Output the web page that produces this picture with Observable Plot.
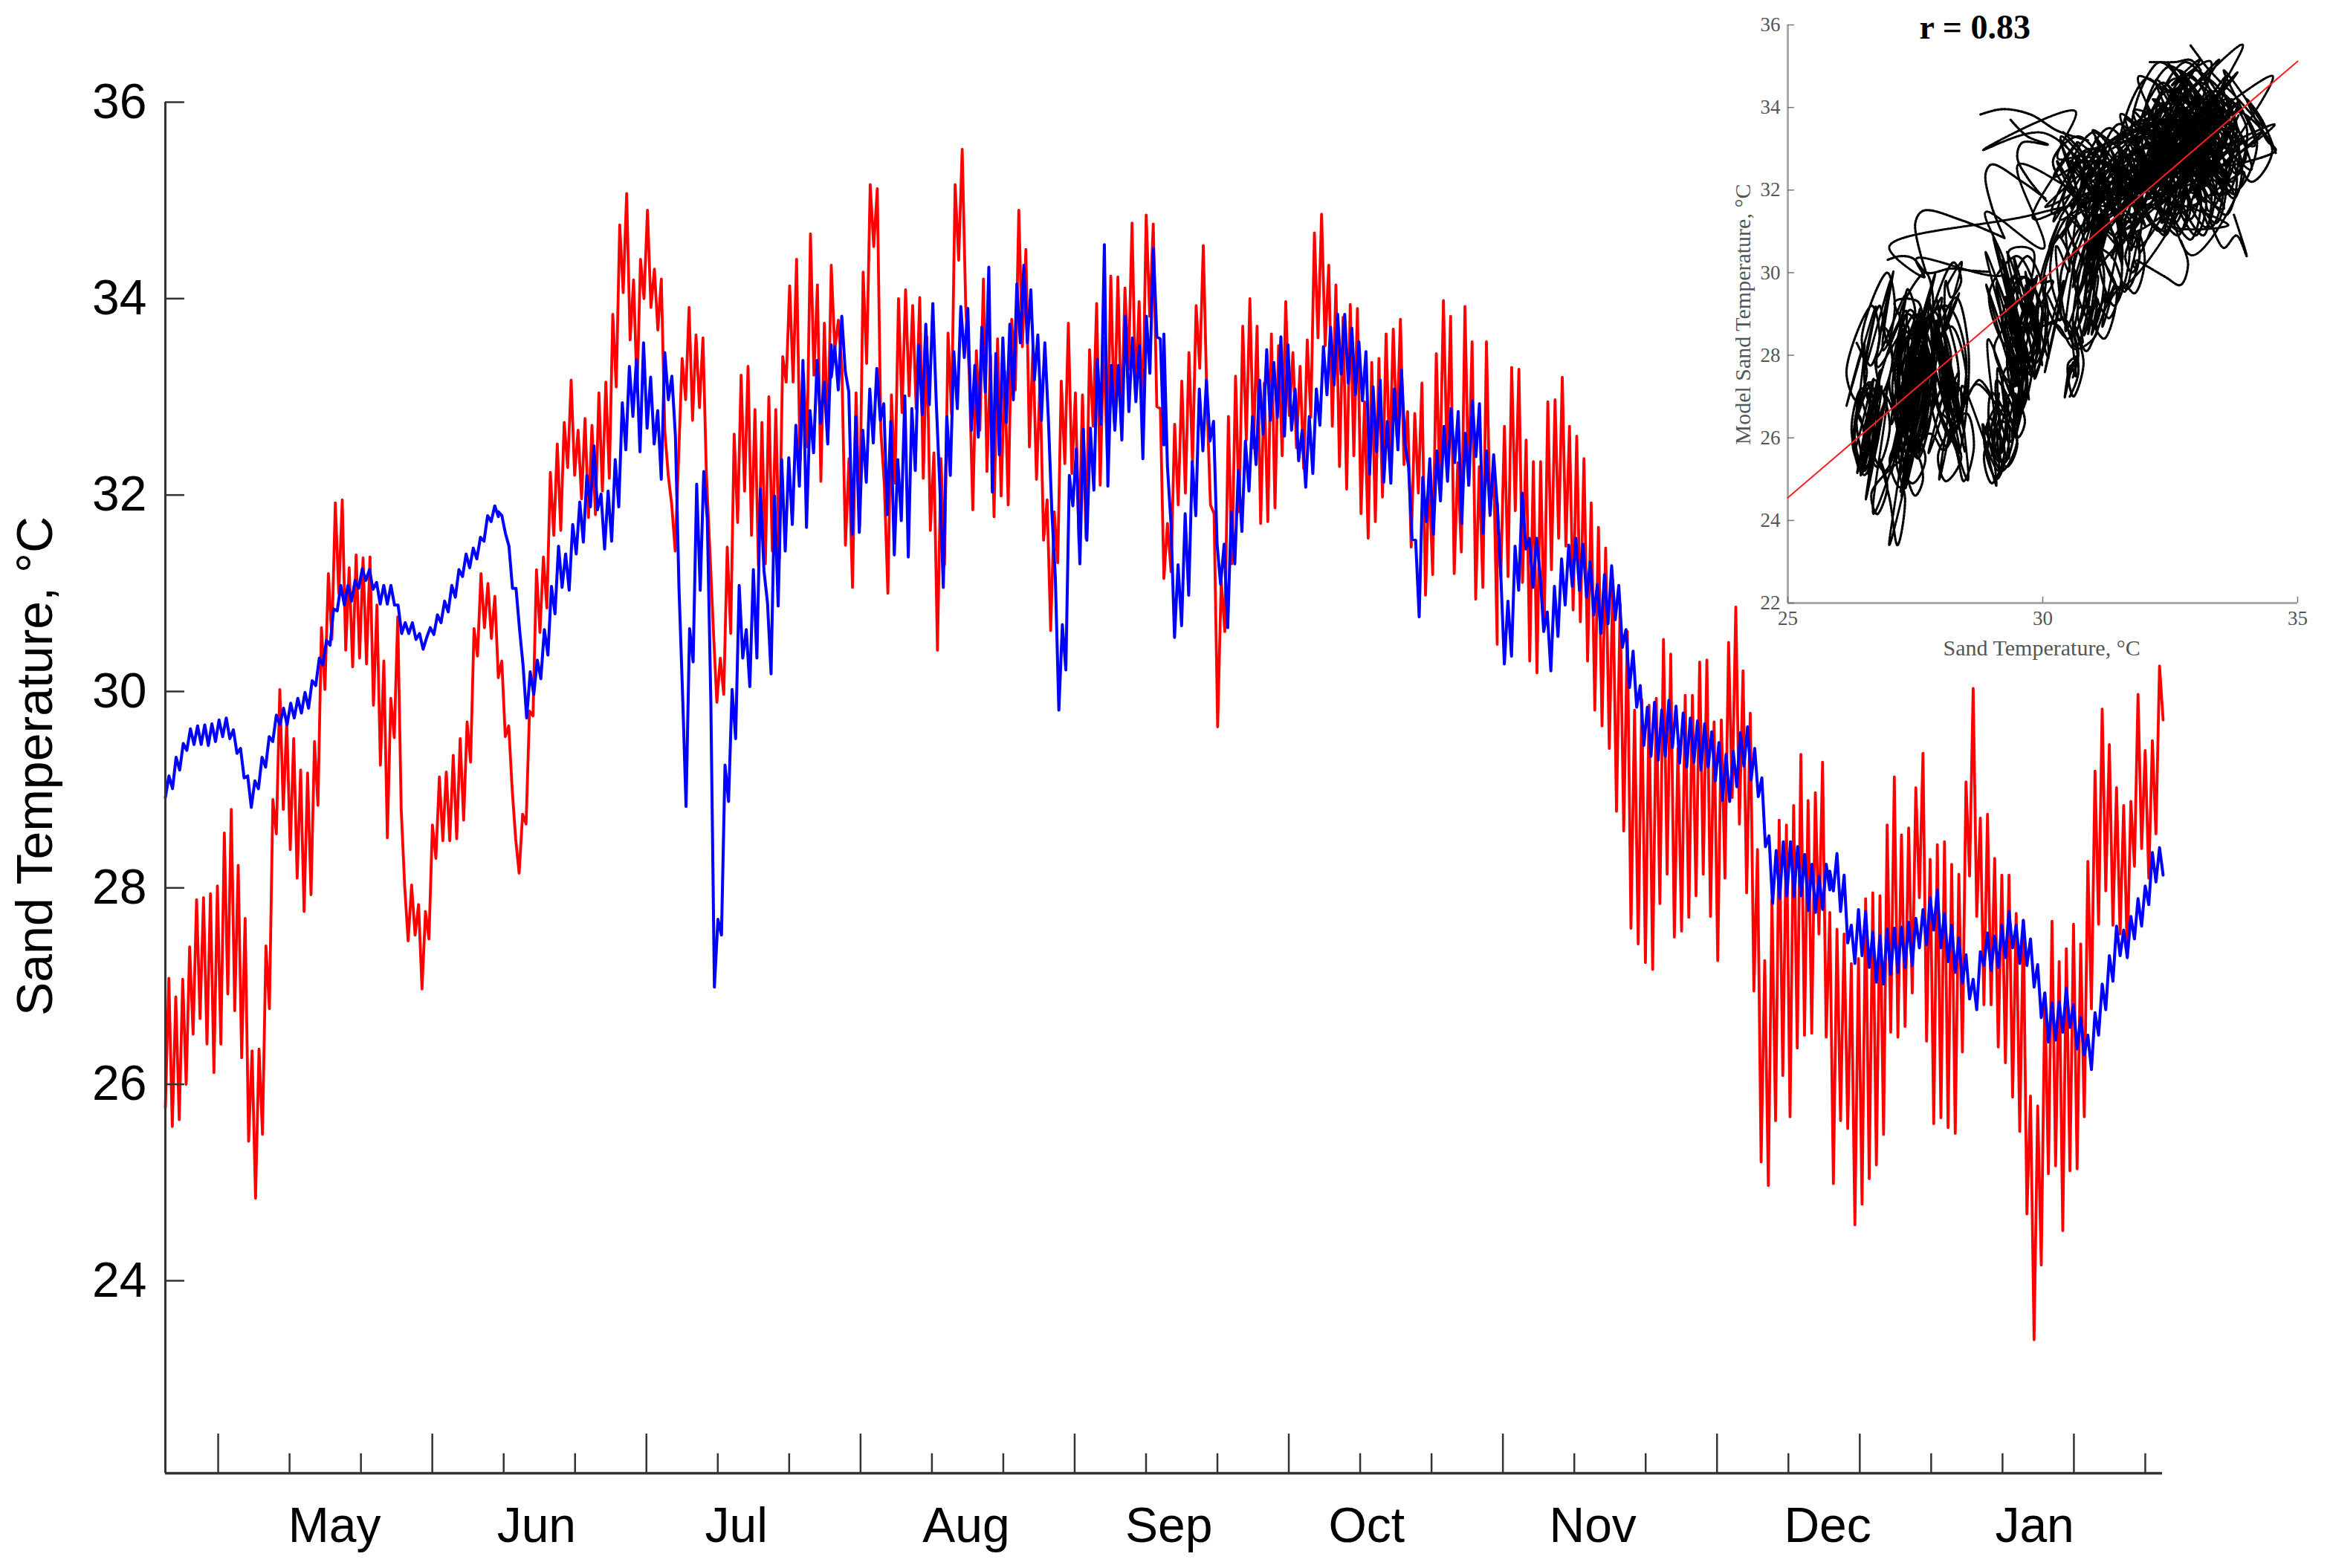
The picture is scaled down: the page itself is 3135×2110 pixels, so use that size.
<!DOCTYPE html>
<html><head><meta charset="utf-8">
<script src="https://cdn.jsdelivr.net/npm/d3@7"></script>
<script src="https://cdn.jsdelivr.net/npm/@observablehq/plot@0.6"></script>
<style>html,body{margin:0;padding:0;background:#fff;overflow:hidden}#c{position:relative;width:3135px;height:2110px}#c svg{position:absolute;left:0;top:0}</style>
</head><body><div id="c"></div>
<script>
// Observed sand temperature: alternating daily peaks and troughs, read in six stretches of the season
const redA=[25.76,27.08,25.57,26.89,25.64,27.07,26.0,27.4,26.51,27.88,26.67,27.9,26.41,27.94,26.12,28.02,26.41,28.56,26.92,28.8,26.75,28.23,26.27,27.69,25.42,26.34,24.84,26.36,25.49,27.41,26.77,28.9,28.55,30.02,28.8,29.69,28.39,29.52,28.1,29.2,27.76,29.17,27.93,29.49,28.84,30.65,30.02,31.2,30.53,31.92,31.0,31.95,30.42,31.26,30.25,31.39,30.34,31.36,30.28,31.37,29.86,30.88,29.25,30.31,28.51,29.93,29.53,30.76,28.8,28.02,27.46,28.03,27.52,27.83,26.97,27.76,27.48,28.64,28.3,29.13,28.48,29.18,28.48,29.35,28.5,29.52,28.69,29.69,29.28,30.64,30.36,31.2,30.65,31.1,30.54,30.97,30.14];
const redB=[30.15,30.31,29.54,29.65,29.0,28.5,28.15,28.75,28.65,29.8,29.75,31.24,30.6,31.37,30.85,32.23,31.59,32.52,31.64,32.74,32.28,33.17,32.2,32.66,31.96,32.78,31.77,32.71,31.8,33.04,32.04,33.15,32.17,33.84,33.1,34.75,34.06,35.07,33.58,34.19,33.05,34.4,34.0,34.9,33.91,34.3,33.68,34.2,32.65,32.2,31.9,31.43,32.4,33.39,32.97,33.91,32.76,33.63,32.89,33.6,32.2,31.43,30.63,29.89,30.34,29.97,31.47,30.59,32.62,31.72,33.22,32.04,33.31,31.59,32.87,31.28,32.74,31.3,33.0,31.43,32.87,31.35,33.41,33.15,34.13,33.15,34.4,32.33,33.24,32.49,34.66,33.22,34.14,32.14,33.75,32.54,34.34];
const redC=[34.33,33.48,33.78,33.28,31.49,32.37,31.06,33.04,31.68,34.27,33.34,35.16,34.53,35.12,32.66,32.1,31.0,33.02,32.12,34.0,32.84,34.09,33.01,33.93,32.88,34.01,32.17,33.61,31.64,32.43,30.42,32.37,31.29,33.65,32.82,35.16,34.39,35.52,33.92,33.24,31.85,33.47,32.66,34.2,32.24,33.42,31.78,33.59,31.99,33.26,31.9,33.79,33.07,34.9,33.51,34.5,32.49,33.51,32.16,33.17,31.54,31.95,30.62,31.83,31.31,33.16,32.32,33.75,32.22,33.04,31.51,33.02,31.56,33.48,32.7,33.95,32.1,33.59,32.39,34.23,32.74,34.22,32.7,34.11,33.28,34.77,33.01,33.97,32.75,34.85,33.82,34.76,32.9,32.88,31.16];
const redD=[31.15,31.71,31.22,32.72,31.9,33.16,32.02,33.45,32.33,33.93,33.29,34.54,32.98,31.9,31.81,29.64,31.13,30.61,32.8,31.3,33.21,31.83,33.72,32.56,34.0,32.48,33.72,31.71,33.14,31.73,33.64,31.87,33.52,32.4,33.97,32.81,33.45,32.48,33.31,32.27,33.58,32.79,34.67,33.6,34.86,33.52,34.34,32.7,34.14,32.29,33.81,32.06,33.94,32.4,33.9,31.81,32.95,31.56,33.35,31.73,33.39,31.98,33.64,32.33,33.69,32.6,33.79,32.31,32.85,31.47,32.83,32.02,33.14,30.98,32.23,31.19,33.44,32.13,33.98,32.37,33.82,31.2,32.33,31.42,33.92,32.1,33.56,30.94,32.29,31.06,33.56,31.79,32.33,30.48];
const redE=[31.92,31.17,32.7,31.17,33.3,31.84,33.28,31.11,32.56,30.31,32.34,30.19,32.34,30.64,32.95,31.24,32.97,31.56,33.2,31.48,32.7,30.83,32.6,30.71,32.37,30.31,31.92,29.81,31.67,29.65,31.46,29.42,31.14,28.78,30.89,28.58,30.61,27.59,29.81,27.43,29.92,27.24,29.86,27.17,29.93,27.84,30.53,28.14,30.38,27.5,29.42,27.56,29.96,27.7,29.96,27.92,30.3,28.14,30.32,27.71,29.69,27.26,29.71,28.1,30.5,28.92,30.86,28.65,30.21,27.95,29.78,26.95,28.39,25.21,27.26,24.97,27.88,25.63,28.69,26.09,28.64,25.67,28.84,26.37,29.36,26.5,28.89,26.52,28.97,27.53,29.28,26.48,27.73];
const redF=[27.75,24.99,27.58,25.63,27.53,25.55,27.23,24.57,27.28,24.78,27.89,25.04,27.95,25.18,27.92,25.49,28.64,26.53,29.13,26.48,28.54,26.59,28.61,26.93,29.02,27.9,29.37,26.44,28.29,25.6,28.44,25.66,28.47,25.56,28.24,25.5,28.14,26.33,29.08,28.12,30.03,27.71,28.71,26.81,28.75,26.81,28.3,26.38,28.13,26.22,28.13,25.87,27.74,25.52,27.67,24.68,25.88,23.4,25.78,24.16,26.93,25.09,27.66,25.17,27.25,24.51,27.38,25.12,27.63,25.14,27.43,25.67,28.27,26.77,29.19,27.63,29.82,27.97,29.46,27.62,29.02,27.53,28.84,27.3,28.88,28.22,29.97,28.4,29.4,28.1,29.5,28.55,30.26,29.71];
// Modelled sand temperature, same six stretches
const blueA=[28.92,29.14,29.01,29.33,29.2,29.47,29.4,29.62,29.46,29.65,29.46,29.66,29.45,29.67,29.49,29.71,29.54,29.73,29.52,29.61,29.37,29.42,29.12,29.14,28.82,29.09,29.01,29.33,29.23,29.54,29.49,29.76,29.66,29.83,29.66,29.88,29.73,29.93,29.78,29.99,29.83,30.11,30.06,30.34,30.27,30.52,30.47,30.84,30.82,31.08,30.88,31.08,30.92,31.13,31.05,31.25,31.13,31.24,31.04,31.11,30.89,31.08,30.89,31.08,30.88,30.88,30.59,30.7,30.59,30.7,30.53,30.59,30.43,30.55,30.65,30.58,30.78,30.7,30.92,30.81,31.08,30.96,31.24,31.17,31.4,31.26,31.46,31.35,31.57,31.53,31.79,31.73,31.89,31.78];
const blueB=[31.83,31.79,31.61,31.48,31.05,31.05,30.63,30.26,29.73,30.2,29.97,30.32,30.13,30.63,30.37,31.07,30.79,31.48,31.06,31.4,31.03,31.7,31.4,31.93,31.52,32.2,31.88,32.5,31.85,32.01,31.45,32.04,31.53,32.36,31.88,32.94,32.46,33.31,32.8,33.38,32.44,33.55,32.68,33.2,32.52,32.86,32.16,33.45,32.97,33.21,32.6,31.06,29.99,28.83,30.64,30.3,32.11,31.03,32.24,31.75,29.89,26.99,27.68,27.52,29.25,28.88,30.02,29.52,31.08,30.34,30.63,30.05,31.24,30.34,32.06,31.23,30.9,30.18,31.99,30.87,32.36,31.43,32.38,31.7,32.71,32.09,33.37,31.67,32.86,32.43,33.37,32.73,33.15,32.52,33.53];
const blueC=[33.2,33.51,33.07,33.82,33.26,33.05,31.6,32.8,31.62,32.66,32.13,33.08,32.53,33.29,32.76,32.93,31.8,32.75,31.39,32.36,31.74,33.01,31.37,32.88,32.25,33.53,32.82,33.74,32.92,33.95,32.93,32.09,31.06,32.8,32.2,33.46,32.88,33.92,33.4,33.9,32.66,33.32,32.59,33.71,33.05,34.32,32.03,33.44,32.41,33.6,32.74,33.74,32.97,34.15,33.55,34.34,33.55,34.09,33.17,33.63,32.76,33.55,32.78,31.83,31.16,29.81,30.68,30.22,32.2,31.89,32.47,31.3,32.67,31.54,32.68,32.05,33.38,32.72,34.55,32.09,33.32,32.66,33.32,32.56,33.82,32.85,33.6,32.95,33.52,32.37,33.82,33.24,34.51,33.61,33.59,32.51];
const blueD=[33.64,32.29,31.71,30.55,31.29,30.67,31.81,30.98,32.34,31.79,33.08,32.45,33.17,32.55,32.75,31.5,31.09,31.5,30.65,31.83,31.3,32.25,31.63,32.55,32.04,32.8,32.31,33.17,32.62,33.48,32.76,33.35,32.79,33.61,32.6,33.53,32.66,33.08,32.35,32.66,32.08,32.8,32.22,33.08,32.71,33.51,33.02,33.71,33.12,33.84,33.23,33.84,33.14,33.7,33.02,33.56,32.96,33.46,32.21,33.1,32.44,33.17,32.13,32.75,32.12,33.08,32.46,33.27,32.52,32.29,31.55,31.54,30.76,32.18,31.73,32.37,31.6,32.45,31.94,32.7,32.14,32.88,32.33,32.85,31.71,32.63,32.1,32.96,32.39,32.93,31.61,32.45,31.8,32.41,31.9];
const blueE=[31.92,31.2,30.28,30.92,30.36,31.48,31.03,32.02,31.45,31.56,31.06,31.56,31.2,30.61,30.81,30.21,31.07,30.56,31.35,30.88,31.49,31.07,31.56,31.03,31.5,30.96,31.32,30.78,31.09,30.59,31.19,30.69,31.28,30.73,31.08,30.45,30.63,30.04,30.41,29.84,30.06,29.45,29.84,29.34,29.89,29.3,29.81,29.34,29.91,29.43,29.85,29.27,29.78,29.23,29.73,29.28,29.7,29.2,29.67,29.23,29.59,29.09,29.48,28.89,29.36,28.88,29.39,29.03,29.58,29.24,29.64,29.1,29.42,28.93,29.12,28.42,28.53,27.84,28.38,27.89,28.47,27.92,28.47,27.91,28.42,27.92,28.34,27.77,28.24,27.75,28.12,27.78,28.24,27.98];
const blueF=[28.17,27.97,28.35,27.76,28.13,27.44,27.62,27.23,27.78,27.31,27.76,27.19,27.55,27.04,27.51,27.02,27.58,27.12,27.59,27.14,27.6,27.19,27.65,27.21,27.69,27.39,27.78,27.42,27.9,27.57,27.98,27.39,27.74,27.25,27.62,27.14,27.49,27.03,27.32,26.87,27.07,26.76,27.35,27.21,27.54,27.16,27.51,27.19,27.62,27.29,27.76,27.39,27.62,27.23,27.67,27.21,27.48,26.99,27.22,26.68,26.93,26.43,26.83,26.45,26.84,26.53,26.98,26.58,26.81,26.36,26.68,26.3,26.5,26.15,26.73,26.5,27.02,26.76,27.31,27.05,27.61,27.31,27.57,27.29,27.71,27.48,27.89,27.61,28.02,27.83,28.36,28.06,28.41,28.13];
// Season day where each stretch starts (the last entry closes the final one)
const stretchDays=[0,46.65,93.3,139.9,186.6,233.2,279.9];
const yTicks=[24,26,28,30,32,34,36];
const majorDays=[7.4,37.4,67.4,97.4,127.4,157.4,187.4,217.4,237.4,267.4];
const minorDays=[17.4,27.4,47.4,57.4,77.4,87.4,107.4,117.4,137.4,147.4,167.4,177.4,197.4,207.4,227.4,247.4,257.4,277.4];
const monthNames=["May","Jun","Jul","Aug","Sep","Oct","Nov","Dec","Jan"];
const monthDays=[23.7,52,80,112.2,140.6,168.3,200,232.9,261.9];
// Inset: traced scatter paths [sand temperature, model sand temperature]
const trails=[
[[28.78,33.83],[29.21,33.96],[29.76,33.83],[30.3,33.43],[30.9,33.2]],
[[29.37,33.7],[29.7,33.3],[30.1,33.1],[29.6,33.15],[29.5,32.8],[29.7,32.3],[30.07,31.74]],
[[30.05,31.8],[29.6,32.2],[29.0,32.62],[28.88,32.4],[29.0,31.6],[29.25,30.84]],
[[29.25,30.84],[28.43,31.26],[27.66,31.5],[27.5,31.2],[27.7,30.05]],
[[26.96,30.31],[27.2,30.4],[27.45,30.35],[27.73,30],[28.2,30.1],[28.6,30.05],[28.95,30.02]],
[[31.85,30.3],[32.4,29.9],[32.7,29.7],[32.85,30.2],[32.7,30.8]],
[[33.3,31.2],[33.55,30.6],[33.8,30.9],[34,30.4],[33.75,31.4]],
[[32.9,35.5],[33.05,35.25],[33.2,35.0],[33.5,34.6]],
[[32.1,35.1],[32.6,35.1],[32.9,35.15],[33.1,34.9]],
[[34.57,32.9],[34.3,33.7],[34,34.2],[34.4,33.2],[34.57,32.96],[33.7,32.6]],
[[30.07,28.75],[30.45,28.85],[30.7,27.6],[30.53,27]]
];
const clusterD=[[31.8,33.9],[32.3,33.0],[32.0,32.0],[31.5,32.9],[32.05,34.7],[32.6,33.7],[32.3,32.4],[31.75,33.5],[32.3,35.1],[32.9,34],[32.6,32.6],[32,33.8],[32.5,35],[33.1,33.9],[32.8,32.5],[32.2,33.7],[32.8,35.1],[33.4,34],[33.1,32.8],[32.5,33.9],[33,34.9],[33.6,33.8],[33.3,32.7],[32.7,33.8],[33.2,34.7],[33.8,33.6],[33.5,32.4],[32.9,33.5],[33.4,34.4],[34,33.5],[33.7,32.2],[33.1,33.3],[33.6,34.2],[34.2,33.2],[33.8,32.0],[33.3,33],[33.8,33.9],[34.5,33],[34.1,32.2],[33.6,33],[31.6,33.4],[32.1,32.6],[31.9,31.6],[31.4,32.5],[32,33.3],[32.5,32.3],[32.3,31.0],[31.8,32.1],[32.3,33.6],[32.8,32.5],[32.6,31.2],[32.1,32.3],[32.6,33.8],[33.1,32.6],[32.9,31.3],[32.4,32.5],[32.9,33.9],[33.4,32.6],[33.2,31.1],[32.7,32.4],[33.1,33.6],[33.6,32.5],[33.4,31.2],[32.9,32.3],[33.3,33.4],[33.8,32.4],[33.6,31.4],[33.1,32.3],[33.5,33.5],[33.9,32.7],[33.75,31.8],[33.3,32.6],[32.2,34.2],[32.7,33.2],[32.45,32.2],[31.95,33.1],[32.45,34.4],[32.95,33.3],[32.7,32.1],[32.2,33.2],[32.7,34.5],[33.2,33.4],[32.95,32.2],[32.45,33.3],[32.95,34.4],[33.45,33.3],[33.2,32.1],[32.7,33.2],[33.2,34.2],[33.7,33.1],[33.45,31.9],[32.95,33],[33.4,33.9],[33.85,33],[33.6,31.9],[33.15,32.9],[31.9,33.6],[32.35,32.9],[32.1,32.1],[31.7,32.8],[32.15,33.0],[32.6,32.1],[32.4,30.9],[31.95,31.9],[32.4,32.9],[32.85,31.9],[32.65,30.9],[32.2,31.8],[32.65,33],[33.1,31.9],[32.9,30.8],[32.45,31.8],[32.9,33],[33.3,32],[33.15,30.9],[32.7,31.9],[33.15,33.2],[33.55,32.2],[33.3,31.1],[32.95,32.1],[32.05,33.9],[32.45,33.3],[32.25,32.5],[31.85,33.2],[32.35,34.6],[32.75,33.9],[32.55,33.1],[32.15,33.8],[32.6,34.7],[33,34],[32.8,33.2],[32.4,33.9],[32.85,34.8],[33.25,34.1],[33.05,33.3],[32.65,34],[33.1,34.6],[33.5,33.9],[33.3,33.1],[32.9,33.8],[33.35,34.3],[33.75,33.7],[33.55,32.9],[33.15,33.6],[33.6,33.7],[34,33],[33.8,32.4],[33.4,32.9],[32.2,32.4],[32.6,31.7],[32.4,31],[32,31.6],[32.5,32.4],[32.9,31.7],[32.7,31],[32.3,31.6],[32.8,32.5],[33.2,31.8],[33,30.9],[32.6,31.7]];
const clusterC=[[30.4,33.4],[30.9,32.6],[30.7,31.8],[30.2,32.7],[30.7,33.3],[31.2,32.5],[31,31.4],[30.5,32.3],[31,33.4],[31.5,32.5],[31.3,31.4],[30.8,32.4],[31.3,33.5],[31.8,32.6],[31.5,31.5],[31.1,32.5],[31.5,33.6],[32,32.7],[31.8,31.6],[31.3,32.6],[30.6,32.6],[31,31.8],[30.85,31.0],[30.4,31.7],[30.9,32.8],[31.3,31.9],[31.1,31],[30.7,31.8],[31.2,32.7],[31.6,31.8],[31.4,30.9],[31,31.7],[31.45,32.6],[31.85,31.7],[31.65,30.8],[31.25,31.6],[30.5,31.2],[30.85,30],[30.6,28.5],[30.15,29.9],[30.3,30.9],[30.7,29.6],[30.5,28.4],[30,29.6],[30.55,31.4],[30.95,30],[30.65,28.2],[30.35,29.9],[30.85,31.2],[31.2,30],[31,28.7],[30.6,30],[31.1,31.4],[31.55,30.2],[31.3,28.9],[30.9,30.2],[31.35,31.6],[31.7,30.5],[31.4,29.2],[31.1,30.5],[31.6,31.4],[31.9,30.5],[31.65,29.6],[31.35,30.4],[31.05,30.6],[31.45,29.6],[31.2,28.4],[30.85,29.5],[31.75,30.9],[31.9,30.4],[31.75,30],[31.62,30.4],[31.85,31],[32.0,30.3],[31.8,29.5],[31.6,29.7],[31.3,29.3],[31.0,28.4],[30.85,28.1],[30.6,28.8],[30.8,27.8],[30.6,27],[30.5,27.8],[30.7,28]];
const clusterB=[[29.3,30.5],[29.5,29.7],[29.3,28.2],[28.95,29.5],[29.5,30.4],[29.9,29.3],[29.7,28],[29.3,29.2],[29.7,30.4],[30.1,29.1],[29.85,27.8],[29.4,29.1],[29.4,29.9],[29.9,28.9],[29.6,27.6],[29.2,28.8],[29.6,29.9],[30.05,28.8],[29.8,27.5],[29.35,28.7],[29.45,29.6],[29.85,28.7],[29.6,27.5],[29.25,28.6],[29.65,29.9],[30,29],[29.75,27.9],[29.45,28.9],[29.55,29.3],[29.95,28.4],[29.65,27.5],[29.35,28.4],[29.25,29.2],[29.65,28.2],[29.4,27.3],[29.05,28.2],[29.5,28.9],[29.8,27.9],[29.55,26.6],[29.3,27.8],[29.4,28.4],[29.7,27.4],[29.45,26.3],[29.2,27.3],[29.3,27.7],[29.6,26.9],[29.35,25.9],[29.1,26.8],[29.1,27.4],[29.45,26.5],[29.25,25.4],[28.95,26.3],[29,27.1],[29.35,26.2],[29.1,25],[28.85,26],[29.15,26.8],[29.5,26],[29.2,25.2],[28.95,25.9],[28.95,26.5],[29.25,25.7],[29,24.9],[28.85,25.6],[29.2,26.4],[29.5,25.9],[29.3,25.3],[29.05,25.8],[29.4,27.1],[29.65,26.4],[29.5,26],[29.25,26.5],[28.7,27.3],[28.4,26.6],[28.75,27.4],[29.0,27.0]];
const clusterA=[[26.35,28.3],[26.55,27.6],[26.35,26.9],[26.15,27.6],[26.65,29.2],[26.8,28.4],[26.62,27.75],[26.45,28.4],[26.95,30],[27.1,29.2],[26.95,28.3],[26.8,29.2],[26.5,27.4],[26.8,26.3],[26.5,25.1],[26.25,26.2],[26.45,27.2],[26.7,26.2],[26.5,25.2],[26.3,26.2],[26.55,27.3],[26.75,26.3],[26.55,25.3],[26.35,26.3],[26.4,27.0],[26.6,26.1],[26.45,25.15],[26.28,26.0],[26.6,27.35],[26.78,26.5],[26.6,25.6],[26.42,26.5],[26.35,26.6],[26.55,26],[26.4,25.4],[26.27,25.9],[26.7,27.4],[27,26.3],[26.75,25.3],[26.5,26.2],[26.85,27.1],[27.15,26.1],[26.9,25.2],[26.6,26],[27.35,29.0],[27.8,27.6],[27.5,25.6],[27.1,27.5],[27.4,29.1],[27.85,27.5],[27.55,25.5],[27.15,27.4],[27.3,28.6],[27.7,27.3],[27.45,25.7],[27.05,27.2],[27.5,29],[27.9,27.6],[27.6,25.9],[27.25,27.5],[27.45,28.6],[27.75,27.2],[27.5,26],[27.2,27.1],[27.3,28.3],[27.65,27],[27.4,25.5],[27.1,26.9],[27.55,28.4],[27.85,27.2],[27.6,25.7],[27.3,27.1],[27.4,27.9],[27.7,26.9],[27.45,25.9],[27.2,26.8],[27.5,28.2],[27.75,27.4],[27.55,26.6],[27.3,27.3],[27.2,28.6],[27.5,27.6],[27.3,26.2],[27,27.5],[28.1,29.2],[28.5,27.9],[28.2,26],[27.8,27.8],[28.3,29.4],[28.55,28],[28.35,25.7],[28,27.8],[28,29.2],[28.35,27.6],[28.1,25.8],[27.75,27.5],[28.2,28.7],[28.5,27.5],[28.3,26.2],[28,27.4],[28.15,27.5],[28.45,26.9],[28.2,26.1],[27.95,26.8],[27.85,29.1],[28.2,28],[27.95,26.8],[27.65,27.9],[28.25,30.25],[28.4,29.8],[28.2,29.4],[28.1,29.8],[28.2,26.2],[28.4,25.5],[28.1,24.95],[27.95,25.6],[28.5,26.6],[28.65,25.8],[28.45,24.95],[28.3,25.7],[28.0,26.6],[28.25,26.2],[28.05,25.7],[27.8,26.1],[27.15,25.6],[27.3,24.5],[27.15,23.4],[27,24.5],[26.8,25.5],[26.95,24.8],[26.75,24.15],[26.65,24.7],[27.5,25.6],[27.65,25],[27.5,24.6],[27.35,25],[27.15,26.5],[27.45,25.6],[27.2,24.8],[27,25.5],[27.4,26.2],[27.7,25.5],[27.45,24.9],[27.2,25.4],[27.35,29.6],[27.5,29],[27.3,28.4],[27.2,29],[27.7,30],[27.85,29.3],[27.7,28.5],[27.55,29.3],[27.1,29.3],[27.3,28.6],[27.1,27.9],[26.95,28.6],[26.85,28.7],[27.05,27.9],[26.85,27.1],[26.7,27.9]];
const fitX=[25,35];
const fitY=[24.55,35.12];
const insetYTicks=[22,24,26,28,30,32,34,36];
const insetXTicks=[25,30,35];

function toRows(chunks){
  return chunks.flatMap((vals,k)=>vals.map((temp,i)=>({
    day:stretchDays[k]+(stretchDays[k+1]-stretchDays[k])*i/(vals.length-1),temp})));
}
const redChunks=[redA,redB,redC,redD,redE,redF], blueChunks=[blueA,blueB,blueC,blueD,blueE,blueF];
const red=toRows(redChunks);
const blue=toRows(blueChunks);
// The inset's scribble is the same two series plotted against each other: pair each model value with the nearest observed one
const pairRows=blueChunks.flatMap((vals,k)=>vals.map((x,i)=>({x,y:redChunks[k][Math.round(i/(vals.length-1)*(redChunks[k].length-1))],g:"pairs"})));
const sans="'Liberation Sans',Arial,sans-serif", serif="'Liberation Serif','Times New Roman',serif";
const AX=22.04;

const main=Plot.plot({
  width:3135,height:2110,marginLeft:222,marginRight:226,marginTop:137,marginBottom:128,
  x:{domain:[0,279.8]},y:{domain:[AX,36]},
  style:{fontFamily:sans,background:"white",color:"black"},
  marks:[
    Plot.line(red,{x:"day",y:"temp",stroke:"#ff0000",strokeWidth:3.8}),
    Plot.line(blue,{x:"day",y:"temp",stroke:"#0000ff",strokeWidth:4}),
    Plot.ruleX([0],{y1:AX,y2:36,stroke:"#333",strokeWidth:3}),
    Plot.ruleY([AX],{x1:0,x2:279.8,stroke:"#333",strokeWidth:3.5}),
    Plot.ruleY(yTicks,{x1:0,x2:2.7,stroke:"#333",strokeWidth:2.5}),
    Plot.ruleX(majorDays,{y1:AX,y2:AX+0.4,stroke:"#333",strokeWidth:2.5}),
    Plot.ruleX(minorDays,{y1:AX,y2:AX+0.2,stroke:"#333",strokeWidth:2.5}),
    Plot.axisY(yTicks,{anchor:"left",tickSize:0,tickPadding:25,fontSize:66,label:null,fill:"black",tickFormat:String}),
    Plot.axisX(monthDays,{anchor:"bottom",tickSize:0,tickPadding:46,fontSize:66,label:null,fill:"black",tickFormat:d=>monthNames[monthDays.indexOf(d)]}),
    Plot.text(["Sand Temperature, °C"],{x:-18.1,y:29.24,rotate:-90,fontSize:68,fill:"black"})
  ]
});
const scatterRows=[...trails,clusterA,clusterB,clusterC,clusterD].flatMap((path,g)=>path.map(([x,y])=>({x,y,g})));
const inset=Plot.plot({
  width:3135,height:2110,marginLeft:2405,marginRight:44,marginTop:33,marginBottom:1299,
  x:{domain:[25,35]},y:{domain:[22,36]},
  style:{fontFamily:serif,background:"transparent",color:"#555"},
  marks:[
    Plot.ruleX([25],{y1:22,y2:36,stroke:"#aaa",strokeWidth:3}),
    Plot.ruleY([22],{x1:25,x2:35,stroke:"#aaa",strokeWidth:3}),
    Plot.ruleY(insetYTicks,{x1:25,x2:25.13,stroke:"#777",strokeWidth:1.5}),
    Plot.ruleX(insetXTicks,{y1:22,y2:22.15,stroke:"#777",strokeWidth:1.5}),
    Plot.line(pairRows,{x:"x",y:"y",stroke:"black",strokeWidth:3,strokeDasharray:"2.6 1.8",curve:"catmull-rom"}),
    Plot.line(scatterRows,{x:"x",y:"y",z:"g",stroke:"black",strokeWidth:3.2,strokeDasharray:"2.6 2",curve:"catmull-rom"}),
    Plot.line(fitX.map((x,i)=>({x,y:fitY[i]})),{x:"x",y:"y",stroke:"#ff2020",strokeWidth:2}),
    Plot.axisY(insetYTicks,{anchor:"left",tickSize:0,tickPadding:10,fontSize:27,label:null,fill:"#555",tickFormat:String}),
    Plot.axisX(insetXTicks,{anchor:"bottom",tickSize:0,tickPadding:10,fontSize:27,label:null,fill:"#555",tickFormat:String}),
    Plot.text(["Sand Temperature, °C"],{x:29.98,y:20.9,fontSize:30,fill:"#555"}),
    Plot.text(["Model Sand Temperature, °C"],{x:24.13,y:28.99,rotate:-90,fontSize:30,fill:"#555"}),
    Plot.text(["r = 0.83"],{x:28.67,y:35.93,fontSize:46,fontWeight:"bold",fill:"black"})
  ]
});
document.getElementById("c").append(main,inset);
</script></body></html>
